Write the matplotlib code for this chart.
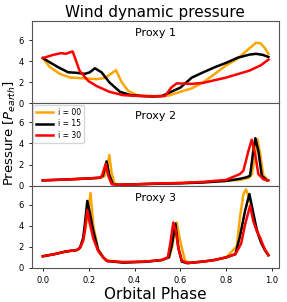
import matplotlib
matplotlib.use("Agg")
import matplotlib.pyplot as plt

# Proxy 1 (wind dynamic pressure, inclination i = 00 / 15 / 30)
p1_x_00 = [0.0, 0.03, 0.074, 0.119, 0.176, 0.234, 0.27, 0.29, 0.319, 0.344, 0.373, 0.409, 0.45,
           0.5, 0.55, 0.6, 0.65, 0.7, 0.75, 0.8, 0.85, 0.9, 0.93, 0.95, 0.97, 0.984]
p1_y_00 = [4.3, 3.45, 2.8, 2.45, 2.38, 2.3, 2.4, 2.7, 3.15, 2.0, 1.17, 0.8, 0.7,
           0.68, 0.75, 1.1, 1.43, 2.0, 2.8, 3.6, 4.25, 5.2, 5.75, 5.7, 5.2, 4.7]
p1_x_15 = [0.0, 0.03, 0.067, 0.11, 0.147, 0.183, 0.205, 0.227, 0.256, 0.29, 0.336, 0.38, 0.43,
           0.48, 0.52, 0.6, 0.65, 0.7, 0.75, 0.8, 0.85, 0.9, 0.93, 0.96, 0.984]
p1_y_15 = [4.3, 3.9, 3.43, 2.95, 2.9, 2.8, 2.95, 3.33, 2.95, 2.0, 1.1, 0.8, 0.7,
           0.65, 0.7, 1.5, 2.45, 2.95, 3.43, 3.85, 4.33, 4.62, 4.7, 4.6, 4.4]
p1_x_30 = [0.0, 0.045, 0.08, 0.1, 0.13, 0.16, 0.198, 0.234, 0.29, 0.35, 0.42, 0.48, 0.533,
           0.56, 0.584, 0.65, 0.7, 0.8, 0.9, 0.95, 0.984]
p1_y_30 = [4.3, 4.6, 4.77, 4.7, 4.93, 3.1, 2.13, 1.65, 1.1, 0.78, 0.7, 0.68, 0.7,
           1.5, 1.9, 1.85, 1.95, 2.45, 3.1, 3.6, 4.15]

# Proxy 2
p2_x_00 = [0.0, 0.1, 0.2, 0.25, 0.27, 0.282, 0.29, 0.3, 0.312, 0.33, 0.4, 0.5, 0.6, 0.7, 0.8,
           0.86, 0.9, 0.912, 0.924, 0.936, 0.948, 0.962, 0.984]
p2_y_00 = [0.5, 0.58, 0.68, 0.75, 0.9, 1.8, 2.9, 1.2, 0.2, 0.08, 0.12, 0.2, 0.25, 0.35, 0.45,
           0.55, 0.75, 1.1, 2.6, 4.4, 3.0, 0.95, 0.5]
p2_x_15 = [0.0, 0.1, 0.2, 0.25, 0.262, 0.27, 0.278, 0.29, 0.305, 0.33, 0.4, 0.5, 0.6, 0.7, 0.8,
           0.86, 0.89, 0.904, 0.918, 0.927, 0.94, 0.955, 0.977]
p2_y_15 = [0.5, 0.58, 0.68, 0.75, 0.95, 1.6, 2.3, 1.0, 0.15, 0.08, 0.12, 0.18, 0.22, 0.3, 0.45,
           0.65, 0.8, 0.95, 3.3, 4.5, 3.3, 0.95, 0.5]
p2_x_30 = [0.0, 0.1, 0.2, 0.25, 0.258, 0.266, 0.274, 0.286, 0.3, 0.33, 0.4, 0.5, 0.6, 0.7, 0.8,
           0.86, 0.875, 0.897, 0.911, 0.926, 0.94, 0.962, 0.984]
p2_y_30 = [0.5, 0.58, 0.68, 0.75, 0.95, 1.5, 2.05, 0.9, 0.15, 0.08, 0.12, 0.2, 0.25, 0.35, 0.55,
           1.1, 1.43, 3.3, 4.35, 3.0, 1.1, 0.6, 0.5]

# Proxy 3
p3_x_00 = [0.0, 0.05, 0.1, 0.15, 0.162, 0.176, 0.186, 0.198, 0.208, 0.22, 0.241, 0.263, 0.28,
           0.35, 0.45, 0.52, 0.55, 0.565, 0.575, 0.584, 0.595, 0.606, 0.62, 0.64, 0.7, 0.75,
           0.8, 0.846, 0.86, 0.875, 0.886, 0.904, 0.918, 0.94, 0.96, 0.984]
p3_y_00 = [1.1, 1.3, 1.55, 1.7, 1.9, 2.6, 3.8, 5.5, 7.1, 4.0, 1.8, 1.0, 0.7,
           0.55, 0.6, 0.75, 1.0, 2.0, 3.5, 4.3, 3.0, 1.9, 0.7, 0.5, 0.6, 0.75,
           1.0, 2.05, 4.8, 7.0, 7.45, 6.4, 4.8, 3.2, 2.1, 1.2]
p3_x_15 = [0.0, 0.05, 0.1, 0.15, 0.162, 0.176, 0.183, 0.194, 0.205, 0.22, 0.241, 0.263, 0.28,
           0.35, 0.45, 0.52, 0.55, 0.563, 0.578, 0.591, 0.606, 0.63, 0.7, 0.75, 0.8, 0.84,
           0.86, 0.882, 0.901, 0.918, 0.933, 0.95, 0.968, 0.984]
p3_y_15 = [1.1, 1.3, 1.55, 1.7, 1.9, 2.85, 4.1, 6.35, 5.2, 3.5, 1.7, 1.0, 0.65,
           0.5, 0.58, 0.75, 1.0, 2.2, 4.2, 1.9, 0.6, 0.45, 0.6, 0.75, 1.0, 1.3,
           3.0, 5.4, 7.0, 5.2, 3.6, 2.5, 1.7, 1.2]
p3_x_30 = [0.0, 0.05, 0.1, 0.15, 0.162, 0.176, 0.183, 0.194, 0.205, 0.22, 0.241, 0.263, 0.28,
           0.35, 0.45, 0.52, 0.545, 0.555, 0.569, 0.58, 0.591, 0.606, 0.63, 0.7, 0.75, 0.8,
           0.84, 0.865, 0.882, 0.904, 0.918, 0.933, 0.948, 0.969, 0.984]
p3_y_30 = [1.1, 1.3, 1.55, 1.7, 1.9, 2.6, 3.5, 5.5, 4.2, 2.8, 1.6, 1.0, 0.65,
           0.55, 0.6, 0.75, 1.0, 2.2, 4.3, 3.5, 1.9, 0.7, 0.45, 0.6, 0.75, 1.0,
           1.3, 2.3, 4.1, 5.9, 4.45, 3.5, 2.85, 1.7, 1.2]

labels = ["i = 00", "i = 15", "i = 30"]
colors = ["orange", "black", "red"]
panels = [
    ("Proxy 1", [(p1_x_00, p1_y_00), (p1_x_15, p1_y_15), (p1_x_30, p1_y_30)]),
    ("Proxy 2", [(p2_x_00, p2_y_00), (p2_x_15, p2_y_15), (p2_x_30, p2_y_30)]),
    ("Proxy 3", [(p3_x_00, p3_y_00), (p3_x_15, p3_y_15), (p3_x_30, p3_y_30)]),
]

fig, axes = plt.subplots(3, 1, sharex=True, figsize=(2.87, 3.02), dpi=100)
fig.subplots_adjust(left=0.111, right=0.972, top=0.930, bottom=0.113, hspace=0)

for ax, (name, series) in zip(axes, panels):
    for (x, y), lab, c in zip(series, labels, colors):
        ax.plot(x, y, color=c, lw=1.8, label=lab)
    ax.set_ylim(0, 7.8)
    ax.set_yticks([0, 2, 4, 6])
    ax.set_xlim(-0.048, 1.03)
    ax.text(0.5, 0.85, name, transform=ax.transAxes, ha="center", va="center", fontsize=8)
    ax.tick_params(labelsize=6, length=2.5, width=0.6)
    for s in ax.spines.values():
        s.set_color("#555555")
        s.set_linewidth(0.8)

axes[1].legend(loc="upper left", fontsize=5.5, handlelength=2.2, borderpad=0.4,
               labelspacing=0.3, handletextpad=0.6, borderaxespad=0.2)
axes[0].set_title("Wind dynamic pressure", fontsize=11, pad=3)
axes[1].set_ylabel("Pressure [$P_{earth}$]", fontsize=9.5)
axes[1].yaxis.set_label_coords(-0.058, 0.64)
axes[2].set_xlabel("Orbital Phase", fontsize=11, labelpad=1)
axes[2].set_xticks([0.0, 0.2, 0.4, 0.6, 0.8, 1.0])

fig.savefig("out.png", dpi=100)
